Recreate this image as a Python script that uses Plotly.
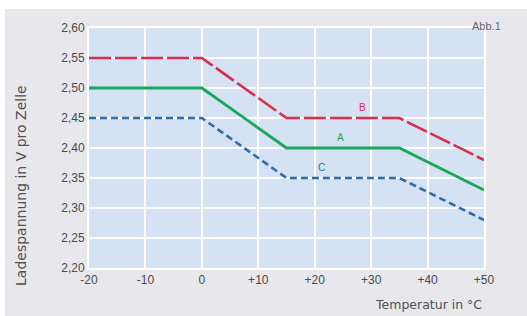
import plotly.graph_objects as go

# Data
temps = [-20, 0, 15, 35, 50]
volt_A = [2.50, 2.50, 2.40, 2.40, 2.33]
volt_B = [2.55, 2.55, 2.45, 2.45, 2.38]
volt_C = [2.45, 2.45, 2.35, 2.35, 2.28]

x_tickvals = [-20, -10, 0, 10, 20, 30, 40, 50]
x_ticktext = ["-20", "-10", "0", "+10", "+20", "+30", "+40", "+50"]
y_tickvals = [2.20, 2.25, 2.30, 2.35, 2.40, 2.45, 2.50, 2.55, 2.60]

labels = ["B", "A", "C"]
label_x = [28.5, 24.5, 21.2]
label_y = [2.467, 2.418, 2.367]

c_red = "#d8304c"
c_green = "#17a85a"
c_blue = "#2e6ea8"
label_colors = [c_red, c_green, c_blue]

fig = go.Figure()
fig.add_trace(go.Scatter(x=temps, y=volt_B, mode="lines",
                         line=dict(color=c_red, width=2.6, dash="22px,4px")))
fig.add_trace(go.Scatter(x=temps, y=volt_A, mode="lines",
                         line=dict(color=c_green, width=2.8)))
fig.add_trace(go.Scatter(x=temps, y=volt_C, mode="lines",
                         line=dict(color=c_blue, width=2.6, dash="7px,4px")))

W, H = 527, 316
ml, mr, mt, mb = 89, 43, 28, 48
pw = W - ml - mr
ph = H - mt - mb


def px_x(p):
    return (p - ml) / pw


def px_y(p):
    return (H - mb - p) / ph


annotations = []
for t, xx, yy, cc in zip(labels, label_x, label_y, label_colors):
    annotations.append(dict(x=xx, y=yy, text=t, showarrow=False,
                            font=dict(size=10, color=cc, family="Arial")))
annotations.append(dict(xref="paper", yref="paper", x=px_x(503), y=px_y(18),
                        text="Abb.1", showarrow=False,
                        font=dict(size=11, color="#666666", family="Arial")))
annotations.append(dict(xref="paper", yref="paper", x=px_x(484), y=px_y(304),
                        xanchor="right", yanchor="middle",
                        text="Temperatur in °C", showarrow=False,
                        font=dict(size=12.5, color="#505050", family="DejaVu Sans")))
annotations.append(dict(xref="paper", yref="paper", x=px_x(21), y=px_y(186),
                        xanchor="center", yanchor="middle", textangle=-90,
                        text="Ladespannung in V pro Zelle", showarrow=False,
                        font=dict(size=14, color="#505050", family="DejaVu Sans")))

shapes = [
    dict(type="rect", xref="paper", yref="paper", layer="above",
         x0=px_x(-5), x1=px_x(W + 5), y0=px_y(9), y1=px_y(-5),
         fillcolor="white", line=dict(width=0)),
    dict(type="rect", xref="paper", yref="paper", layer="above",
         x0=px_x(-5), x1=px_x(5), y0=px_y(H + 5), y1=px_y(-5),
         fillcolor="white", line=dict(width=0)),
]

fig.update_layout(
    width=W, height=H,
    margin=dict(l=ml, r=mr, t=mt, b=mb),
    paper_bgcolor="#e8e8ec",
    plot_bgcolor="#d5e2f3",
    showlegend=False,
    separators=",.",
    annotations=annotations,
    shapes=shapes,
    xaxis=dict(range=[-20, 50], tickvals=x_tickvals, ticktext=x_ticktext,
               showgrid=True, gridcolor="white", gridwidth=1.5,
               showline=True, linecolor="white", linewidth=2, mirror=True,
               zeroline=False, ticks="", ticklen=0,
               tickfont=dict(size=12, color="#4a4a4a", family="Arial")),
    yaxis=dict(range=[2.20, 2.60], tickvals=y_tickvals, tickformat=".2f",
               showgrid=True, gridcolor="white", gridwidth=1.5,
               showline=True, linecolor="white", linewidth=2, mirror=True,
               zeroline=False, ticks="", ticklen=0,
               tickfont=dict(size=12, color="#4a4a4a", family="Arial")),
)

fig.write_html("out.html", config={"displayModeBar": False},
               post_script="document.body.style.margin='0';document.body.style.overflow='hidden';")
